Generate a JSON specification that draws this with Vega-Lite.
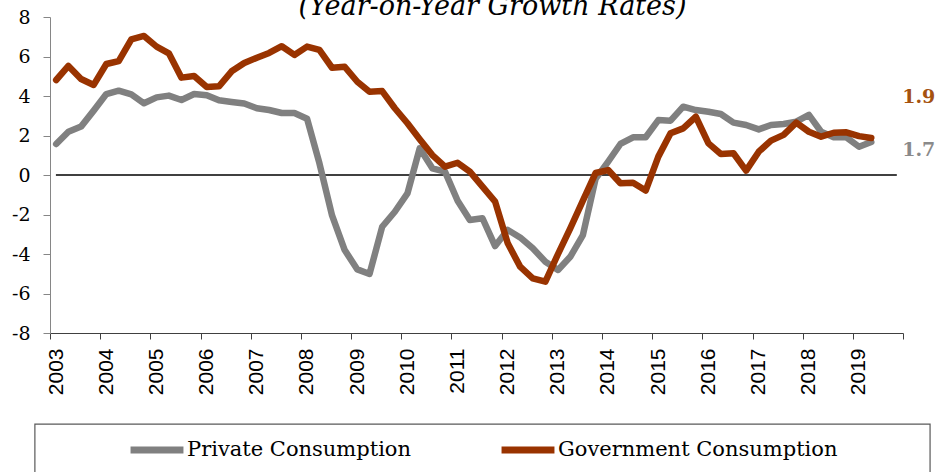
{
  "$schema": "https://vega.github.io/schema/vega-lite/v6.json",
  "autosize": "none",
  "width": 853,
  "height": 316,
  "padding": {"left": 50, "top": 17, "right": 32, "bottom": 139},
  "background": "white",
  "title": {"text": "(Year-on-Year Growth Rates)", "font": "DejaVu Serif", "fontStyle": "italic", "fontWeight": "normal", "fontSize": 27, "color": "#000000", "anchor": "middle", "baseline": "alphabetic", "offset": -34, "dx": 16},
  "config": {"view": {"stroke": null}},
  "datasets": {
    "q": [
      {"date": "2003-02-15", "Private Consumption": 1.57, "Government Consumption": 4.81},
      {"date": "2003-05-15", "Private Consumption": 2.19, "Government Consumption": 5.52},
      {"date": "2003-08-15", "Private Consumption": 2.45, "Government Consumption": 4.86},
      {"date": "2003-11-15", "Private Consumption": 3.26, "Government Consumption": 4.56},
      {"date": "2004-02-15", "Private Consumption": 4.10, "Government Consumption": 5.62},
      {"date": "2004-05-15", "Private Consumption": 4.27, "Government Consumption": 5.77},
      {"date": "2004-08-15", "Private Consumption": 4.08, "Government Consumption": 6.87},
      {"date": "2004-11-15", "Private Consumption": 3.63, "Government Consumption": 7.04},
      {"date": "2005-02-15", "Private Consumption": 3.93, "Government Consumption": 6.50},
      {"date": "2005-05-15", "Private Consumption": 4.02, "Government Consumption": 6.16},
      {"date": "2005-08-15", "Private Consumption": 3.80, "Government Consumption": 4.93},
      {"date": "2005-11-15", "Private Consumption": 4.10, "Government Consumption": 5.01},
      {"date": "2006-02-15", "Private Consumption": 4.04, "Government Consumption": 4.46},
      {"date": "2006-05-15", "Private Consumption": 3.78, "Government Consumption": 4.49},
      {"date": "2006-08-15", "Private Consumption": 3.70, "Government Consumption": 5.25},
      {"date": "2006-11-15", "Private Consumption": 3.62, "Government Consumption": 5.67},
      {"date": "2007-02-15", "Private Consumption": 3.38, "Government Consumption": 5.94},
      {"date": "2007-05-15", "Private Consumption": 3.29, "Government Consumption": 6.18},
      {"date": "2007-08-15", "Private Consumption": 3.14, "Government Consumption": 6.52},
      {"date": "2007-11-15", "Private Consumption": 3.14, "Government Consumption": 6.08},
      {"date": "2008-02-15", "Private Consumption": 2.85, "Government Consumption": 6.50},
      {"date": "2008-05-15", "Private Consumption": 0.60, "Government Consumption": 6.33},
      {"date": "2008-08-15", "Private Consumption": -2.05, "Government Consumption": 5.43},
      {"date": "2008-11-15", "Private Consumption": -3.80, "Government Consumption": 5.48},
      {"date": "2009-02-15", "Private Consumption": -4.78, "Government Consumption": 4.72},
      {"date": "2009-05-15", "Private Consumption": -5.01, "Government Consumption": 4.22},
      {"date": "2009-08-15", "Private Consumption": -2.62, "Government Consumption": 4.25},
      {"date": "2009-11-15", "Private Consumption": -1.86, "Government Consumption": 3.38},
      {"date": "2010-02-15", "Private Consumption": -0.93, "Government Consumption": 2.62},
      {"date": "2010-05-15", "Private Consumption": 1.35, "Government Consumption": 1.81},
      {"date": "2010-08-15", "Private Consumption": 0.34, "Government Consumption": 1.01},
      {"date": "2010-11-15", "Private Consumption": 0.17, "Government Consumption": 0.42},
      {"date": "2011-02-15", "Private Consumption": -1.30, "Government Consumption": 0.62},
      {"date": "2011-05-15", "Private Consumption": -2.28, "Government Consumption": 0.17},
      {"date": "2011-08-15", "Private Consumption": -2.19, "Government Consumption": -0.59},
      {"date": "2011-11-15", "Private Consumption": -3.60, "Government Consumption": -1.35},
      {"date": "2012-02-15", "Private Consumption": -2.78, "Government Consumption": -3.46},
      {"date": "2012-05-15", "Private Consumption": -3.16, "Government Consumption": -4.64},
      {"date": "2012-08-15", "Private Consumption": -3.71, "Government Consumption": -5.23},
      {"date": "2012-11-15", "Private Consumption": -4.39, "Government Consumption": -5.40},
      {"date": "2013-02-15", "Private Consumption": -4.81, "Government Consumption": -4.00},
      {"date": "2013-05-15", "Private Consumption": -4.14, "Government Consumption": -2.70},
      {"date": "2013-08-15", "Private Consumption": -3.04, "Government Consumption": -1.30},
      {"date": "2013-11-15", "Private Consumption": -0.20, "Government Consumption": 0.10},
      {"date": "2014-02-15", "Private Consumption": 0.68, "Government Consumption": 0.25},
      {"date": "2014-05-15", "Private Consumption": 1.57, "Government Consumption": -0.42},
      {"date": "2014-08-15", "Private Consumption": 1.91, "Government Consumption": -0.39},
      {"date": "2014-11-15", "Private Consumption": 1.91, "Government Consumption": -0.79},
      {"date": "2015-02-15", "Private Consumption": 2.78, "Government Consumption": 0.93},
      {"date": "2015-05-15", "Private Consumption": 2.75, "Government Consumption": 2.11},
      {"date": "2015-08-15", "Private Consumption": 3.46, "Government Consumption": 2.36},
      {"date": "2015-11-15", "Private Consumption": 3.29, "Government Consumption": 2.95},
      {"date": "2016-02-15", "Private Consumption": 3.20, "Government Consumption": 1.60},
      {"date": "2016-05-15", "Private Consumption": 3.09, "Government Consumption": 1.06},
      {"date": "2016-08-15", "Private Consumption": 2.65, "Government Consumption": 1.10},
      {"date": "2016-11-15", "Private Consumption": 2.53, "Government Consumption": 0.22},
      {"date": "2017-02-15", "Private Consumption": 2.31, "Government Consumption": 1.18},
      {"date": "2017-05-15", "Private Consumption": 2.53, "Government Consumption": 1.74},
      {"date": "2017-08-15", "Private Consumption": 2.58, "Government Consumption": 2.03},
      {"date": "2017-11-15", "Private Consumption": 2.70, "Government Consumption": 2.65},
      {"date": "2018-02-15", "Private Consumption": 3.04, "Government Consumption": 2.19},
      {"date": "2018-05-15", "Private Consumption": 2.19, "Government Consumption": 1.94},
      {"date": "2018-08-15", "Private Consumption": 1.91, "Government Consumption": 2.14},
      {"date": "2018-11-15", "Private Consumption": 1.91, "Government Consumption": 2.16},
      {"date": "2019-02-15", "Private Consumption": 1.43, "Government Consumption": 1.97},
      {"date": "2019-05-15", "Private Consumption": 1.67, "Government Consumption": 1.87}
    ]
  },
  "encoding": {
    "x": {
      "type": "temporal",
      "scale": {"type": "utc", "nice": false, "domain": [{"year": 2003, "month": 1, "date": 1, "utc": true}, {"year": 2020, "month": 1, "date": 1, "utc": true}]},
      "axis": {
        "title": null, "grid": false, "format": "%Y", "formatType": "utc",
        "values": [
          {"year": 2003, "month": 1, "date": 1, "utc": true}, {"year": 2004, "month": 1, "date": 1, "utc": true},
          {"year": 2005, "month": 1, "date": 1, "utc": true}, {"year": 2006, "month": 1, "date": 1, "utc": true},
          {"year": 2007, "month": 1, "date": 1, "utc": true}, {"year": 2008, "month": 1, "date": 1, "utc": true},
          {"year": 2009, "month": 1, "date": 1, "utc": true}, {"year": 2010, "month": 1, "date": 1, "utc": true},
          {"year": 2011, "month": 1, "date": 1, "utc": true}, {"year": 2012, "month": 1, "date": 1, "utc": true},
          {"year": 2013, "month": 1, "date": 1, "utc": true}, {"year": 2014, "month": 1, "date": 1, "utc": true},
          {"year": 2015, "month": 1, "date": 1, "utc": true}, {"year": 2016, "month": 1, "date": 1, "utc": true},
          {"year": 2017, "month": 1, "date": 1, "utc": true}, {"year": 2018, "month": 1, "date": 1, "utc": true},
          {"year": 2019, "month": 1, "date": 1, "utc": true}, {"year": 2020, "month": 1, "date": 1, "utc": true}
        ],
        "labelExpr": "utcyear(datum.value) == 2020 ? '' : datum.label",
        "labelAngle": -90, "labelFont": "Liberation Sans", "labelFontSize": 21, "labelColor": "#000000",
        "labelPadding": 9, "labelOffset": 6, "labelFlush": false, "labelOverlap": false,
        "domainColor": "#404040", "tickColor": "#404040", "tickSize": 6, "domainWidth": 1.2
      }
    },
    "y": {
      "type": "quantitative",
      "scale": {"domain": [-8, 8], "nice": false, "zero": false},
      "axis": {
        "title": null, "grid": false, "values": [-8, -6, -4, -2, 0, 2, 4, 6, 8],
        "labelExpr": "'' + datum.value",
        "labelFont": "DejaVu Serif", "labelFontSize": 19, "labelColor": "#000000", "labelPadding": 13,
        "domainColor": "#868686", "tickColor": "#868686", "tickSize": 7
      }
    }
  },
  "layer": [
    {
      "data": {"values": [{}]},
      "mark": {"type": "rule", "color": "#000000", "strokeWidth": 1.3},
      "encoding": {
        "y": {"datum": 0, "type": "quantitative"},
        "x": {"datum": {"year": 2003, "month": 2, "date": 13, "utc": true}, "type": "temporal"},
        "x2": {"datum": {"year": 2019, "month": 11, "date": 17, "utc": true}}
      }
    },
    {
      "data": {"values": [{}]},
      "mark": {"type": "rect", "fill": "transparent", "stroke": "#595959", "strokeWidth": 1.2, "clip": false},
      "encoding": {
        "x": {"datum": {"year": 2002, "month": 9, "date": 13, "utc": true}, "type": "temporal"},
        "x2": {"datum": {"year": 2020, "month": 7, "date": 16, "utc": true}},
        "y": {"datum": -12.61, "type": "quantitative"},
        "y2": {"datum": -16}
      }
    },
    {
      "data": {"name": "q"},
      "transform": [
        {"fold": ["Private Consumption", "Government Consumption"], "as": ["series", "value"]},
        {"filter": "datum.series === 'Private Consumption'"}
      ],
      "mark": {"type": "line", "strokeWidth": 6.5, "strokeCap": "round", "strokeJoin": "round"},
      "encoding": {
        "x": {"field": "date", "type": "temporal"},
        "y": {"field": "value", "type": "quantitative"},
        "color": {
          "field": "series", "type": "nominal",
          "scale": {"domain": ["Private Consumption", "Government Consumption"], "range": ["#808080", "#993300"]},
          "legend": {
            "orient": "none", "legendX": 77, "legendY": 403, "direction": "horizontal", "columns": 2,
            "columnPadding": 75, "title": null, "padding": 0, "labelLimit": 400,
            "labelFont": "DejaVu Serif", "labelFontSize": 21, "labelColor": "#000000", "labelOffset": 0,
            "symbolType": "stroke", "symbolSize": 2800, "symbolStrokeWidth": 7
          }
        }
      }
    },
    {
      "data": {"name": "q"},
      "transform": [
        {"fold": ["Private Consumption", "Government Consumption"], "as": ["series", "value"]},
        {"filter": "datum.series === 'Government Consumption'"}
      ],
      "mark": {"type": "line", "strokeWidth": 6.5, "strokeCap": "round", "strokeJoin": "round"},
      "encoding": {
        "x": {"field": "date", "type": "temporal"},
        "y": {"field": "value", "type": "quantitative"},
        "color": {"field": "series", "type": "nominal"}
      }
    },
    {
      "data": {"name": "q"},
      "transform": [
        {"fold": ["Private Consumption", "Government Consumption"], "as": ["series", "value"]},
        {"filter": "datum.series === 'Government Consumption' && utcyear(datum.date) === 2019 && utcmonth(datum.date) === 4"}
      ],
      "mark": {"type": "text", "align": "left", "baseline": "middle", "dx": 31, "dy": -41, "font": "DejaVu Serif", "fontWeight": "bold", "fontSize": 19, "color": "#a5520f"},
      "encoding": {
        "x": {"field": "date", "type": "temporal"},
        "y": {"field": "value", "type": "quantitative"},
        "text": {"field": "value", "type": "quantitative", "format": ".1f"}
      }
    },
    {
      "data": {"name": "q"},
      "transform": [
        {"fold": ["Private Consumption", "Government Consumption"], "as": ["series", "value"]},
        {"filter": "datum.series === 'Private Consumption' && utcyear(datum.date) === 2019 && utcmonth(datum.date) === 4"}
      ],
      "mark": {"type": "text", "align": "left", "baseline": "middle", "dx": 31, "dy": 8, "font": "DejaVu Serif", "fontWeight": "bold", "fontSize": 19, "color": "#8a8a8a"},
      "encoding": {
        "x": {"field": "date", "type": "temporal"},
        "y": {"field": "value", "type": "quantitative"},
        "text": {"field": "value", "type": "quantitative", "format": ".1f"}
      }
    }
  ]
}
